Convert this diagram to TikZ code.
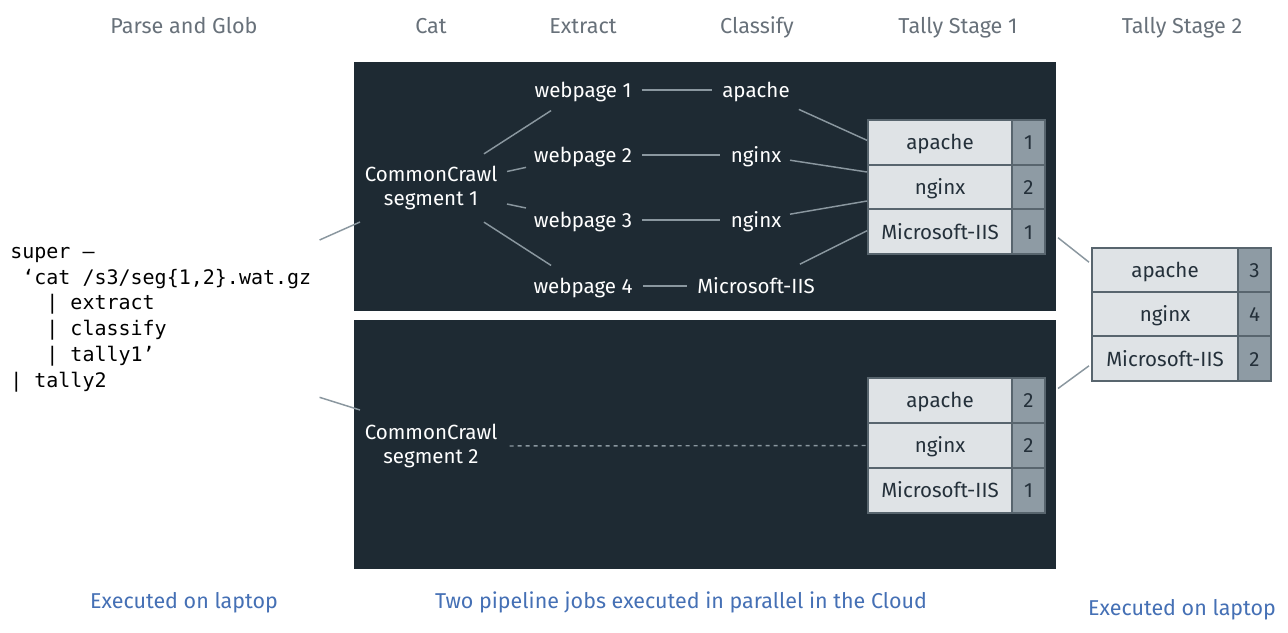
\documentclass[tikz,border=0pt]{standalone}
\usepackage{fontspec}
\setmainfont{Fira Sans}
\setmonofont{DejaVu Sans Mono}
\usetikzlibrary{calc}
\definecolor{panel}{HTML}{1E2A33}
\definecolor{conn}{HTML}{8A979F}
\definecolor{hdr}{HTML}{68717A}
\definecolor{blu}{HTML}{4570B5}
\definecolor{cell}{HTML}{DFE3E6}
\definecolor{cnt}{HTML}{8E9BA4}
\definecolor{bord}{HTML}{58656E}
\definecolor{ink}{HTML}{24303A}
\begin{document}
\begin{tikzpicture}[x=0.75pt,y=-0.75pt,
  hd/.style={text=hdr, font=\fontsize{16.2}{20}\selectfont, inner sep=0pt, text height=12pt, text depth=0pt},
  lb/.style={text=white, font=\fontsize{15.4}{17.5}\selectfont, inner sep=0pt, text height=11pt, text depth=0pt},
  cc/.style={text=white, font=\fontsize{15.4}{17.5}\selectfont, inner sep=0pt, align=center},
  nt/.style={text=blu, font=\fontsize{16.1}{19}\selectfont, inner sep=0pt, text height=11.5pt, text depth=0pt},
  cellname/.style={draw=bord, line width=1.5pt, fill=cell, text=ink, font=\fontsize{15.4}{17.5}\selectfont, minimum height=33.5pt, minimum width=108pt, inner sep=0pt, text height=11pt, text depth=0pt},
  cellcnt/.style={cellname, fill=cnt, minimum width=24.75pt},
  ln/.style={draw=conn, line width=1.1pt},
  dl/.style={draw=conn, line width=1.1pt, dash pattern=on 3pt off 3pt},
  code/.style={font=\ttfamily\fontsize{15}{19.35}\selectfont, text=black, inner sep=0pt, align=left}
]
\useasboundingbox (0,0) rectangle (1288,632);
\fill[white] (0,0) rectangle (1288,632);

% panels
\fill[panel] (354,62) rectangle (1056,311);
\fill[panel] (354,320) rectangle (1056,569);

% headers
\node[hd] (h1) at (184,25) {Parse and Glob};
\node[hd] (h2) at (431,25) {Cat};
\node[hd] (h3) at (583,25) {Extract};
\node[hd] (h4) at (757,25) {Classify};
\node[hd] (h5) at (958,25) {Tally Stage 1};
\node[hd] (h6) at (1182,25) {Tally Stage 2};

% code
\node[code, anchor=north west] (code) at (10,240) {\strut super —\\
\phantom{x}‘cat /s3/seg\{1,2\}.wat.gz\\
\phantom{xxx}| extract\\
\phantom{xxx}| classify\\
\phantom{xxx}| tally1’\\
| tally2};

% pipeline 1
\node[cc] (cc1) at (431,188) {CommonCrawl\\segment 1};
\node[lb] (w1) at (583,90) {webpage 1};
\node[lb] (w2) at (583,155) {webpage 2};
\node[lb] (w3) at (583,220) {webpage 3};
\node[lb] (w4) at (583,286) {webpage 4};
\node[lb] (c1) at (756,90) {apache};
\node[lb] (c2) at (756,155) {nginx};
\node[lb] (c3) at (756,220) {nginx};
\node[lb] (c4) at (756,286) {Microsoft-IIS};

% tally 1 table
\node[cellname] (t1a) at (940,142.3) {apache};
\node[cellcnt]  (t1an) at (1028.5,142.3) {1};
\node[cellname] (t1b) at (940,187) {nginx};
\node[cellcnt]  (t1bn) at (1028.5,187) {2};
\node[cellname] (t1c) at (940,231.7) {Microsoft-IIS};
\node[cellcnt]  (t1cn) at (1028.5,231.7) {1};

% pipeline 2
\node[cc] (cc2) at (431,446) {CommonCrawl\\segment 2};
\node[cellname] (t3a) at (940,400.5) {apache};
\node[cellcnt]  (t3an) at (1028.5,400.5) {2};
\node[cellname] (t3b) at (940,445.5) {nginx};
\node[cellcnt]  (t3bn) at (1028.5,445.5) {2};
\node[cellname] (t3c) at (940,490.5) {Microsoft-IIS};
\node[cellcnt]  (t3cn) at (1028.5,490.5) {1};

% tally 2 table
\node[cellname, minimum width=109.5pt] (t2a) at (1165,270.2) {apache};
\node[cellcnt]  (t2an) at (1254.5,270.2) {3};
\node[cellname, minimum width=109.5pt] (t2b) at (1165,314.5) {nginx};
\node[cellcnt]  (t2bn) at (1254.5,314.5) {4};
\node[cellname, minimum width=109.5pt] (t2c) at (1165,358.8) {Microsoft-IIS};
\node[cellcnt]  (t2cn) at (1254.5,358.8) {2};

% connectors
\draw[ln] ($(code.north east)+(8,0)$) -- ($(cc1.center)+(-71,34)$);
\draw[ln] ($(code.south east)+(8,5)$) -- ($(cc2.center)+(-71,-36)$);

\draw[ln, shorten <=63*0.75pt, shorten >=38*0.75pt] (cc1.center) -- (w1.center);
\draw[ln, shorten <=77.8*0.75pt, shorten >=58.3*0.75pt] (cc1.center) -- (w2.center);
\draw[ln, shorten <=77.7*0.75pt, shorten >=58.3*0.75pt] (cc1.center) -- (w3.center);
\draw[ln, shorten <=63*0.75pt, shorten >=38*0.75pt] (cc1.center) -- (w4.center);

\draw[ln] ($(w1.east)+(10,0)$) -- ($(c1.west)+(-10,0)$);
\draw[ln] ($(w2.east)+(10,0)$) -- ($(c2.west)+(-10,0)$);
\draw[ln] ($(w3.east)+(10,0)$) -- ($(c3.west)+(-10,0)$);
\draw[ln] ($(w4.east)+(10,0)$) -- ($(c4.west)+(-10,0)$);

\draw[ln, shorten <=47*0.75pt] (c1.center) -- ($(t1a.west)+(0,-2)$);
\draw[ln, shorten <=34.4*0.75pt] (c2.center) -- ($(t1b.west)+(0,-15)$);
\draw[ln, shorten <=34.5*0.75pt] (c3.center) -- ($(t1b.west)+(0,14)$);
\draw[ln, shorten <=49*0.75pt] (c4.center) -- ($(t1c.west)+(0,-1)$);

\draw[ln] ($(t1cn.east)+(12,6)$) -- ($(t2a.west)+(-2,-8)$);
\draw[ln] ($(t3an.east)+(12,-12)$) -- ($(t2c.west)+(-2,7)$);

\draw[dl, shorten <=12*0.75pt] (cc2.east) -- (t3b.west);

% notes
\node[nt] (n1) at (184,601) {Executed on laptop};
\node[nt] (n2) at (681,601) {Two pipeline jobs executed in parallel in the Cloud};
\node[nt] (n3) at (1182,608) {Executed on laptop};
\end{tikzpicture}
\end{document}
